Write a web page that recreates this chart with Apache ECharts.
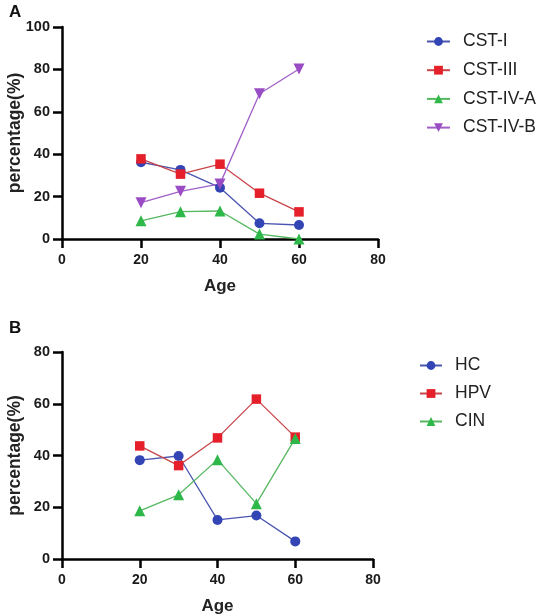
<!DOCTYPE html>
<html><head><meta charset="utf-8">
<script src="https://cdn.jsdelivr.net/npm/echarts@6/dist/echarts.min.js"></script>
<style>html,body{margin:0;padding:0;background:#fff}#c{width:536px;height:616px}</style>
</head><body><div id="c"></div>
<script>
const ages = [20, 30, 40, 50, 60];
const cstI = [36.2, 32.6, 24.2, 7.4, 6.6];
const cstIII = [37.8, 30.6, 35.3, 21.6, 12.8];
const cstIVA = [8.6, 12.9, 13.2, 2.3, 0];
const cstIVB = [17.1, 22.5, 26.0, 68.5, 80.2];
const hc = [38.2, 39.8, 15.1, 16.8, 6.8];
const hpv = [43.7, 36.1, 46.8, 61.8, 47.1];
const cin = [18.6, 24.8, 38.4, 21.4, 46.6];

const pair = (v) => ages.map((a, i) => [a, v[i]]);
const FONT = 'Liberation Sans, Arial, sans-serif';
const C = {blue:'#3344b4', red:'#e6202a', green:'#2eb84a', purple:'#9a4cc4'};
const L = {blue:'#4a55b0', red:'#c8454a', green:'#55b860', purple:'#a060c8'};

function xAx(gi) {
  return {gridIndex: gi, type:'value', min:0, max:80, interval:20,
    name:'Age', nameLocation:'middle', nameGap:39, nameMoveOverlap:false,
    nameTextStyle:{fontFamily:FONT, fontWeight:'bold', fontSize:17, color:'#222'},
    axisLine:{lineStyle:{color:'#000', width:2.5}},
    axisTick:{length:9, lineStyle:{color:'#000', width:2.5}},
    axisLabel:{fontFamily:FONT, fontWeight:'bold', fontSize:14, color:'#1a1a1a', margin:14},
    splitLine:{show:false}};
}
function yAx(gi, max) {
  return {gridIndex: gi, type:'value', min:0, max:max, interval:20,
    name:'percentage(%)', nameLocation:'middle', nameGap:38, nameMoveOverlap:false,
    nameTextStyle:{fontFamily:FONT, fontWeight:'bold', fontSize:17.5, color:'#222'},
    axisLine:{show:true, lineStyle:{color:'#000', width:2.5}},
    axisTick:{show:true, length:9, lineStyle:{color:'#000', width:2.5}},
    axisLabel:{fontFamily:FONT, fontWeight:'bold', fontSize:14.5, color:'#1a1a1a', margin:12},
    splitLine:{show:false}};
}
function ser(name, data, gi, sym, col, lcol, rot) {
  return {name, type:'line', xAxisIndex:gi, yAxisIndex:gi, data:pair(data),
    symbol:sym, symbolSize: sym==='circle'?10:(sym==='rect'?9.5:11), symbolRotate:rot||0,
    itemStyle:{color:col}, lineStyle:{color:lcol, width:1.3}, z:3};
}
const legendText = {fontFamily:FONT, fontSize:17.5, color:'#222', lineHeight:20, padding:[0,0,0,8]};
const chart = echarts.init(document.getElementById('c'), null, {renderer:'canvas'});
chart.setOption({
  animation:false,
  graphic:[
    {type:'text', left:9, top:4, style:{text:'A', font:'bold 17px '+FONT, fill:'#111'}},
    {type:'text', left:9, top:320, style:{text:'B', font:'bold 17px '+FONT, fill:'#111'}}
  ],
  grid:[
    {left:62, top:27, width:316, height:212, containLabel:false, outerBoundsMode:'none'},
    {left:62, top:352, width:311, height:207, containLabel:false, outerBoundsMode:'none'}
  ],
  xAxis:[xAx(0), xAx(1)],
  yAxis:[yAx(0,100), yAx(1,80)],
  legend:[
    {data:['CST-I','CST-III','CST-IV-A','CST-IV-B'], orient:'vertical', left:426, top:31.5,
     padding:0, itemGap:8.7, itemWidth:23, itemHeight:11, textStyle:legendText},
    {data:['HC','HPV','CIN'], orient:'vertical', left:419, top:355.5,
     padding:0, itemGap:8, itemWidth:22, itemHeight:11, textStyle:legendText}
  ],
  series:[
    ser('CST-I', cstI, 0, 'circle', C.blue, L.blue),
    ser('CST-III', cstIII, 0, 'rect', C.red, L.red),
    ser('CST-IV-A', cstIVA, 0, 'triangle', C.green, L.green),
    ser('CST-IV-B', cstIVB, 0, 'triangle', C.purple, L.purple, 180),
    ser('HC', hc, 1, 'circle', C.blue, L.blue),
    ser('HPV', hpv, 1, 'rect', C.red, L.red),
    ser('CIN', cin, 1, 'triangle', C.green, L.green)
  ]
});
</script></body></html>
